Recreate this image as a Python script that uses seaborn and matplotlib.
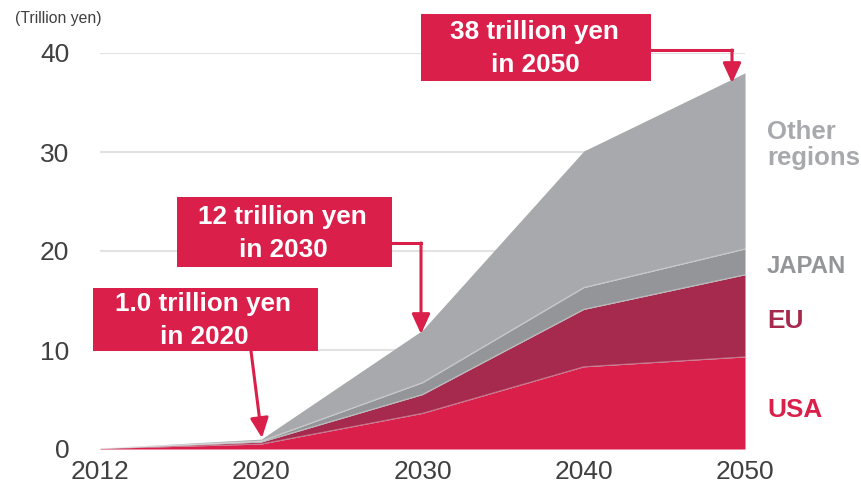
import numpy as np
import pandas as pd
import matplotlib
matplotlib.use("Agg")
import matplotlib.pyplot as plt
from matplotlib.patches import Rectangle, FancyArrowPatch
from matplotlib.lines import Line2D
import seaborn as sns

# ---- data (trillion yen, stacked layers) ----
years = ["2012", "2020", "2030", "2040", "2050"]
usa = [0.05, 0.5, 3.6, 8.3, 9.3]
eu = [0.02, 0.2, 1.9, 5.8, 8.3]
japan = [0.01, 0.1, 1.2, 2.2, 2.6]
other = [0.02, 0.2, 5.3, 13.8, 17.8]
series_names = ["USA", "EU", "JAPAN", "Other\nregions"]
yticks = [0, 10, 20, 30, 40]
callouts = ["1.0 trillion yen\nin 2020", "12 trillion yen\nin 2030", "38 trillion yen\nin 2050"]

C_USA = "#D91F4A"
C_EU = "#A52A4D"
C_JP = "#939598"
C_OT = "#A7A9AC"
C_TXT = "#404040"

sns.set_theme(style="white")
plt.rcParams["font.family"] = ["Liberation Sans", "DejaVu Sans"]

W, H = 862, 483
fig = plt.figure(figsize=(W / 100, H / 100), dpi=100)

def P(x, y):
    return (x / W, 1 - y / H)

ax = fig.add_axes([100 / W, (H - 449) / H, 645 / W, 396 / H])
xpos = np.arange(len(years))
ax.stackplot(xpos, usa, eu, japan, other, colors=[C_USA, C_EU, C_JP, C_OT],
             linewidth=0, zorder=2)

# thin light boundaries between layers via seaborn
cum = np.cumsum(np.array([usa, eu, japan]), axis=0)
df = pd.DataFrame({
    "x": np.tile(xpos, 3),
    "y": cum.ravel(),
    "layer": np.repeat(["usa", "eu", "jp"], len(xpos)),
})
sns.lineplot(data=df, x="x", y="y", units="layer", estimator=None,
             color="white", alpha=0.35, linewidth=0.8, ax=ax, zorder=3, legend=False)

ax.set_xlim(0, len(years) - 1)
ax.set_ylim(0, 40)
ax.set_xticks(xpos, labels=years)
ax.set_yticks(yticks)
ax.set_xlabel("")
ax.set_ylabel("")
for s in ax.spines.values():
    s.set_visible(False)
ax.yaxis.grid(True, color="#E2E2E2", linewidth=1.5)
ax.xaxis.grid(False)
ax.set_axisbelow(True)
ax.tick_params(axis="both", length=0, labelsize=19, labelcolor=C_TXT)
ax.tick_params(axis="y", pad=22)
ax.tick_params(axis="x", pad=8)

fig.text(*P(15, 19), "(Trillion yen)", fontsize=11.3, color=C_TXT, ha="left", va="center")

# right-side labels
lab_x = 767
fig.text(*P(lab_x, 139), "Other", fontsize=18.5, fontweight="bold", color=C_OT, ha="left", va="baseline")
fig.text(*P(lab_x, 165), "regions", fontsize=18.5, fontweight="bold", color=C_OT, ha="left", va="baseline")
fig.text(*P(lab_x, 273), "JAPAN", fontsize=17.2, fontweight="bold", color=C_JP, ha="left", va="baseline")
fig.text(*P(lab_x, 328), "EU", fontsize=18.8, fontweight="bold", color=C_EU, ha="left", va="baseline")
fig.text(*P(lab_x, 417), "USA", fontsize=18.8, fontweight="bold", color=C_USA, ha="left", va="baseline")

# callout boxes (pixel geometry)
boxes = [(93, 288, 318, 351), (177, 197, 392, 267), (421, 14, 651, 81)]
for (x0, y0, x1, y1), txt in zip(boxes, callouts):
    fig.patches.append(Rectangle(P(x0, y1), (x1 - x0) / W, (y1 - y0) / H,
                                 transform=fig.transFigure, facecolor=C_USA,
                                 edgecolor="none", zorder=5))
    cx = (x0 + x1) / 2
    cy = (y0 + y1) / 2
    l1, l2 = txt.split("\n")
    fig.text(*P(cx - 2, cy - 8), l1, fontsize=18.8, fontweight="bold", color="white",
             ha="center", va="baseline", zorder=6)
    fig.text(*P(cx - 1, cy + 25), l2, fontsize=18.8, fontweight="bold", color="white",
             ha="center", va="baseline", zorder=6)

def arrow(p0, p1):
    a = FancyArrowPatch(P(*p0), P(*p1), transform=fig.transFigure,
                        arrowstyle="-|>,head_length=1.2,head_width=0.55",
                        mutation_scale=10, color=C_USA, linewidth=2.2,
                        shrinkA=0, shrinkB=0, zorder=6)
    fig.patches.append(a)

def seg(p0, p1):
    fig.lines.append(Line2D([p0[0] / W, p1[0] / W], [1 - p0[1] / H, 1 - p1[1] / H],
                            transform=fig.transFigure, color=C_USA, linewidth=2.2,
                            solid_capstyle="projecting", zorder=6))

arrow((251, 351), (262, 438))
seg((392, 243), (421, 243))
arrow((421, 243), (421, 334))
seg((651, 50), (732, 50))
arrow((732, 50), (732, 83))

fig.savefig("out.png", dpi=100)
